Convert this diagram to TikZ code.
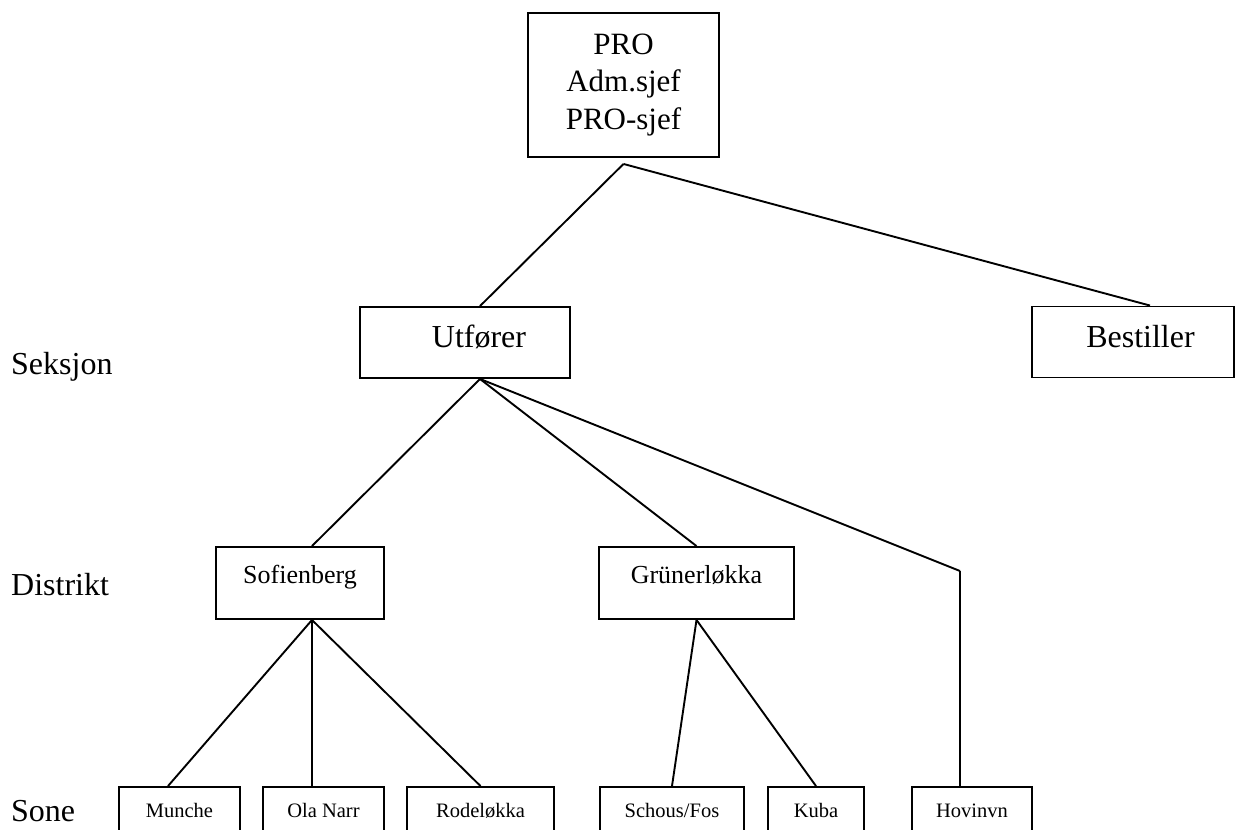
\documentclass[tikz,border=0pt]{standalone}
\usepackage{fontspec}
\setmainfont{Liberation Serif}
\tikzset{
    box/.style={draw,line width=1.9pt,inner sep=0pt,align=center},
    seksjonbox/.style={box,minimum height=71pt,font=\fontsize{32}{38}\selectfont},
    distriktbox/.style={box,minimum height=72pt,text height=17pt,text depth=17pt,font=\fontsize{26}{31}\selectfont},
    sonebox/.style={box,minimum height=60pt,text height=14pt,text depth=14pt,font=\fontsize{20.5}{25}\selectfont},
    level/.style={anchor=base west,inner sep=0pt,font=\fontsize{32}{38}\selectfont},
    link/.style={line width=1.9pt}
}
\begin{document}
            \begin{tikzpicture}[x=1pt,y=-1pt]
                \useasboundingbox (0,0) rectangle (1237,830);
                \clip (0,0) rectangle (1237,830);
                %% levels
                \node[level] (seksjon) at (11,374) {Seksjon};
                \node[level] (distrikt) at (11,595) {Distrikt};
                \node[level] (sone) at (11,821) {Sone};
                %% top
                \node[box,minimum width=191pt,minimum height=144pt,font=\fontsize{31}{37.5}\selectfont] (pro) at (623.5,85) {PRO\\Adm.sjef\\PRO-sjef};
                \coordinate (prolink) at ([yshift=-6pt]pro.south);
                %% seksjon
                \node[seksjonbox,minimum width=210pt,text height=22pt,text depth=13pt] (utforer) at (465,342.5) {\hspace*{28pt}Utfører};
                \node[seksjonbox,minimum width=202pt,text height=22pt,text depth=12pt] (bestiller) at (1133,342) {\hspace*{15pt}Bestiller};
                \draw[link] (prolink) -- ([xshift=15pt]utforer.north);
                \draw[link] (prolink) -- ([xshift=17pt]bestiller.north);
                %% distrikt
                \node[distriktbox,minimum width=168pt] (sofienberg) at (300,583) {Sofienberg};
                \node[distriktbox,minimum width=195pt] (grunerlokka) at (696.5,583) {Grünerløkka};
                \coordinate (hovinknee) at (960,571);
                \draw[link] ([xshift=15pt]utforer.south) -- ([xshift=12pt]sofienberg.north);
                \draw[link] ([xshift=15pt]utforer.south) -- (grunerlokka.north);
                \draw[link] ([xshift=15pt]utforer.south) -- (hovinknee);
                %% sone
                \node[sonebox,minimum width=121pt] (munche) at (179.5,817) {Munche};
                \node[sonebox,minimum width=121pt] (olanarr) at (323.5,817) {Ola Narr};
                \node[sonebox,minimum width=147pt] (rodelokka) at (480.5,817) {Rodeløkka};
                \node[sonebox,minimum width=144pt] (schousfos) at (672,817) {Schous/Fos};
                \node[sonebox,minimum width=96pt] (kuba) at (816,817) {Kuba};
                \node[sonebox,minimum width=120pt] (hovinvn) at (972,817) {Hovinvn};
                \draw[link] ([xshift=12pt]sofienberg.south) -- ([xshift=-11.5pt]munche.north);
                \draw[link] ([xshift=12pt]sofienberg.south) -- ([xshift=-11.5pt]olanarr.north);
                \draw[link] ([xshift=12pt]sofienberg.south) -- (rodelokka.north);
                \draw[link] (grunerlokka.south) -- (schousfos.north);
                \draw[link] (grunerlokka.south) -- (kuba.north);
                \draw[link] (hovinknee) -- ([xshift=-12pt]hovinvn.north);
            \end{tikzpicture}
\end{document}
